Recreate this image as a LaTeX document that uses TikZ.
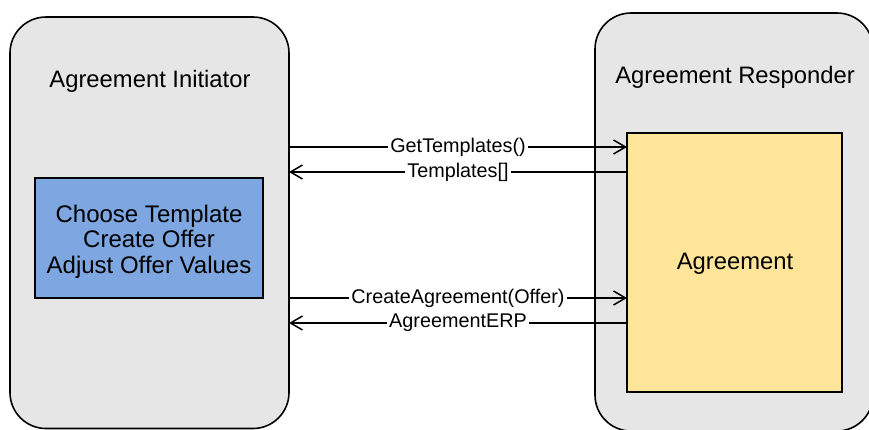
\documentclass[tikz,border=0pt]{standalone}
\usepackage{fontspec}
\setmainfont{Liberation Sans}
\usetikzlibrary{arrows.meta}
\definecolor{panelgrey}{HTML}{E6E6E6}
\definecolor{taskblue}{HTML}{7EA6E0}
\definecolor{docyellow}{HTML}{FFE599}
\begin{document}
\begin{tikzpicture}[x=1pt,y=-1pt,
  panel/.style={draw=black, line width=1.6pt, fill=panelgrey, rounded corners=36pt,
    anchor=north west, inner sep=0pt, outer sep=0pt},
  box/.style={draw=black, line width=1.6pt, anchor=north west, inner sep=0pt, outer sep=0pt},
  title/.style={font=\fontsize{23.8}{27}\selectfont},
  msg/.style={line width=1.5pt, -{Straight Barb[length=12pt,width=14pt,line width=1.5pt]}},
  msglabel/.style={midway, fill=white, inner sep=2pt, font=\fontsize{19.8}{22}\selectfont}]
\useasboundingbox (0,0) rectangle (869,429);
\fill[white] (0,0) rectangle (869,429);

% the two parties
\node[panel, minimum width=279pt, minimum height=411.5pt] (init) at (10,17) {};
\node[panel, minimum width=278pt, minimum height=418pt] (resp) at (595,13) {};
\node[title, anchor=base] (inittitle) at (150,87) {Agreement Initiator};
\node[title, anchor=base] (resptitle) at (735,83) {Agreement Responder};

% inner boxes
\node[box, fill=taskblue, minimum width=228pt, minimum height=120pt] (tasks) at (35,178) {};
\node[align=center, font=\fontsize{24}{25.3}\selectfont] (taskstext) at ([yshift=-3.5pt]tasks.center)
  {Choose Template\\Create Offer\\Adjust Offer Values};
\node[box, fill=docyellow, minimum width=215pt, minimum height=259pt] (agr) at (627,133) {};
\node[title, anchor=base] (agrtext) at (735,269) {Agreement};

% message rows
\coordinate (r1) at (0,147);
\coordinate (r2) at (0,172);
\coordinate (r3) at (0,298);
\coordinate (r4) at (0,323);

\draw[msg] (init.east |- r1) -- (agr.west |- r1) node[msglabel] {GetTemplates()};
\draw[msg] (agr.west |- r2) -- (init.east |- r2) node[msglabel] {Templates[]};
\draw[msg] (init.east |- r3) -- (agr.west |- r3) node[msglabel] {CreateAgreement(Offer)};
\draw[msg] (agr.west |- r4) -- (init.east |- r4) node[msglabel] {AgreementERP};
\end{tikzpicture}
\end{document}
